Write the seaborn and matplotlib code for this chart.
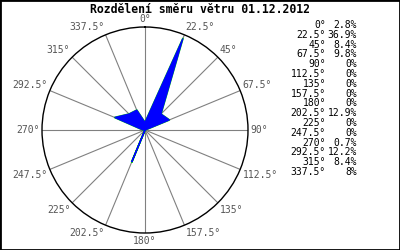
import numpy as np
import pandas as pd
import matplotlib
matplotlib.use("Agg")
import matplotlib.pyplot as plt
import seaborn as sns

directions = [0, 22.5, 45, 67.5, 90, 112.5, 135, 157.5, 180, 202.5, 225, 247.5, 270, 292.5, 315, 337.5]
dir_labels = ["0°", "22.5°", "45°", "67.5°", "90°", "112.5°", "135°", "157.5°", "180°",
              "202.5°", "225°", "247.5°", "270°", "292.5°", "315°", "337.5°"]
percent = [2.8, 36.9, 8.4, 9.8, 0, 0, 0, 0, 0, 12.9, 0, 0, 0.7, 12.2, 8.4, 8]
pct_labels = ["2.8%", "36.9%", "8.4%", "9.8%", "0%", "0%", "0%", "0%", "0%",
              "12.9%", "0%", "0%", "0.7%", "12.2%", "8.4%", "8%"]
title = "Rozdělení směru větru 01.12.2012"

sns.set_style("white")
plt.rcParams['font.family'] = ['DejaVu Sans Mono', 'DejaVu Sans']

RMAX = 38.4
box = [0.105, 0.068, 0.515, 0.824]

fig = plt.figure(figsize=(4, 2.5), dpi=100)
fig.patch.set_facecolor("white")

# polar frame: circle, spokes, direction labels
ax = fig.add_axes(box, projection="polar")
ax.set_facecolor("white")
ax.set_theta_zero_location("N")
ax.set_theta_direction(-1)
ax.set_ylim(0, RMAX)
ax.set_yticks([])
ax.set_thetagrids(directions, [""] * len(directions))
ax.xaxis.grid(True, color="#808080", lw=0.8)
ax.yaxis.grid(False)
ax.tick_params(axis="x", length=0)
ax.spines["polar"].set_color("black")
ax.spines["polar"].set_linewidth(1.0)

for d, lab in zip(directions, dir_labels):
    t = np.deg2rad(d)
    s, c = np.sin(t), np.cos(t)
    ha = "left" if s > 0.1 else ("right" if s < -0.1 else "center")
    va = "bottom" if c > 0.1 else ("top" if c < -0.1 else "center")
    ax.text(t, RMAX * 1.025, lab, ha=ha, va=va, fontsize=7, color="#555555", clip_on=False)

# data polygon with straight edges, drawn on a cartesian overlay with the same scale
axc = fig.add_axes(box, facecolor="none")
axc.set_xlim(-RMAX, RMAX)
axc.set_ylim(-RMAX, RMAX)
axc.set_aspect("equal")
axc.axis("off")

theta = np.deg2rad(np.array(directions + [directions[0]]))
rvals = np.array(percent + [percent[0]])
df = pd.DataFrame({"x": rvals * np.sin(theta), "y": rvals * np.cos(theta)})
sns.lineplot(data=df, x="x", y="y", sort=False, estimator=None, ax=axc,
             color="#00cc00", lw=1.3, zorder=2)
axc.fill(df["x"], df["y"], facecolor="#0000ff", edgecolor="#0000ff", lw=0.9, zorder=3)
axc.set_xlabel("")
axc.set_ylabel("")

fig.text(0.5, 0.963, title, ha="center", va="center", fontsize=8.3, fontweight="bold", color="black")

y0 = 1 - 25 / 250
dy = 9.8 / 250
for i, (a, p) in enumerate(zip(dir_labels, pct_labels)):
    y = y0 - i * dy
    fig.text(326 / 400, y, a, ha="right", va="center", fontsize=7, color="black")
    fig.text(357 / 400, y, p, ha="right", va="center", fontsize=7, color="black")

fig.patches.append(plt.Rectangle((0, 0), 1, 1, transform=fig.transFigure, fill=False,
                                 edgecolor="black", lw=2, figure=fig))

fig.savefig("out.png", dpi=100)
